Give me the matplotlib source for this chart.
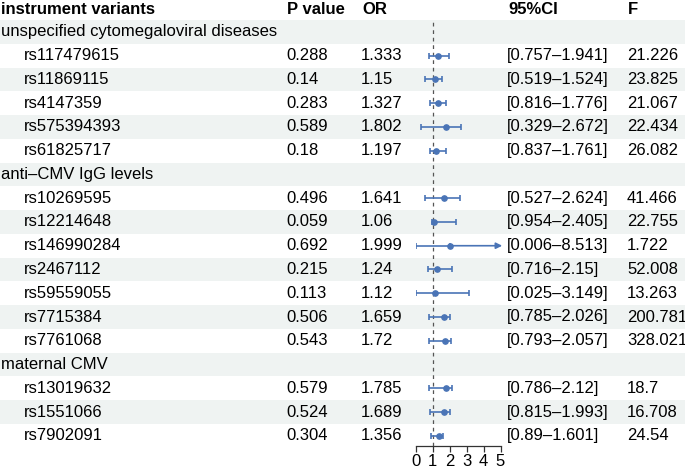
import matplotlib.pyplot as plt
from matplotlib.patches import Rectangle

plt.rcParams['font.family'] = ['Liberation Sans', 'DejaVu Sans']

# data
exposures = ['unspecified cytomegaloviral diseases', 'anti–CMV IgG levels', 'maternal CMV']
group = [0, 0, 0, 0, 0, 1, 1, 1, 1, 1, 1, 1, 2, 2, 2]
variants = ['rs117479615', 'rs11869115', 'rs4147359', 'rs575394393', 'rs61825717',
            'rs10269595', 'rs12214648', 'rs146990284', 'rs2467112', 'rs59559055',
            'rs7715384', 'rs7761068',
            'rs13019632', 'rs1551066', 'rs7902091']
pval = [0.288, 0.14, 0.283, 0.589, 0.18,
        0.496, 0.059, 0.692, 0.215, 0.113, 0.506, 0.543,
        0.579, 0.524, 0.304]
odds = [1.333, 1.15, 1.327, 1.802, 1.197,
        1.641, 1.06, 1.999, 1.24, 1.12, 1.659, 1.72,
        1.785, 1.689, 1.356]
ci_lo = [0.757, 0.519, 0.816, 0.329, 0.837,
         0.527, 0.954, 0.006, 0.716, 0.025, 0.785, 0.793,
         0.786, 0.815, 0.89]
ci_hi = [1.941, 1.524, 1.776, 2.672, 1.761,
         2.624, 2.405, 8.513, 2.15, 3.149, 2.026, 2.057,
         2.12, 1.993, 1.601]
fstat = [21.226, 23.825, 21.067, 22.434, 26.082,
         41.466, 22.755, 1.722, 52.008, 13.263, 200.781, 328.021,
         18.7, 16.708, 24.54]
headers = ['instrument variants', 'P value', 'OR', '95%CI', 'F']
xticks = [0, 1, 2, 3, 4, 5]

W, H = 685, 472
blue = '#4a74b6'
bg = '#eff3f2'
fs = 12

# layout (pixels)
row_top = 20
row_h = 23.76
col_x = [0, 286, 361, 507, 627]
indent = 24
fx0, fx1 = 415.7, 500.5
axis_y = 446

# build rows: group rows followed by their variants
rows = []
for g, name in enumerate(exposures):
    rows.append(('group', name, None))
    for i, v in enumerate(variants):
        if group[i] == g:
            rows.append(('var', v, i))

fig = plt.figure(figsize=(W / 100, H / 100), dpi=100)
ax = fig.add_axes([0, 0, 1, 1])
ax.set_xlim(0, W)
ax.set_ylim(H, 0)
ax.axis('off')

# header
for x, h in zip(col_x, headers):
    ax.text(x + 1, 9, h, fontsize=fs, fontweight='bold', ha='left', va='center')

row_y = []
for r, (kind, label, i) in enumerate(rows):
    y = row_top + (r + 0.5) * row_h
    row_y.append(y)
    if r % 2 == 0:
        ax.add_patch(Rectangle((0, y - row_h / 2), W, row_h, color=bg, lw=0, zorder=0))
    if kind == 'group':
        ax.text(1, y, label, fontsize=fs, ha='left', va='center')
    else:
        ax.text(indent, y, label, fontsize=fs, ha='left', va='center')
        ax.text(col_x[1], y, f'{pval[i]:g}', fontsize=fs, ha='left', va='center')
        ax.text(col_x[2], y, f'{odds[i]:g}', fontsize=fs, ha='left', va='center')
        ax.text(col_x[3], y, f'[{ci_lo[i]:g}–{ci_hi[i]:g}]', fontsize=fs, ha='left', va='center')
        ax.text(col_x[4], y, f'{fstat[i]:g}', fontsize=fs, ha='left', va='center')

# forest panel
axf = fig.add_axes([fx0 / W, (H - axis_y) / H, (fx1 - fx0) / W, (axis_y - row_top) / H])
axf.set_xlim(0, 5)
axf.set_ylim(axis_y, row_top)
axf.patch.set_alpha(0)
for s in ['top', 'left', 'right']:
    axf.spines[s].set_visible(False)
axf.spines['bottom'].set_color('#333333')
axf.spines['bottom'].set_linewidth(0.9)
axf.set_yticks([])
axf.set_xticks(xticks)
axf.tick_params(axis='x', length=4, width=0.9, color='#333333', labelsize=fs, pad=2)
axf.axvline(1, color='#555555', lw=0.9, ls=(0, (3, 3)), zorder=1)

for r, (kind, label, i) in enumerate(rows):
    if kind != 'var':
        continue
    y = row_y[r]
    hi = min(ci_hi[i], 5)
    if ci_hi[i] > 5:
        axf.errorbar(odds[i], y, xerr=[[odds[i] - ci_lo[i]], [0]], fmt='o', color=blue,
                     ms=3.8, lw=1.2, capsize=2.2, capthick=1.2, zorder=3)
        axf.annotate('', xy=(5.1, y), xytext=(odds[i], y), annotation_clip=False,
                     arrowprops=dict(arrowstyle='-|>', color=blue, lw=1.2,
                                     mutation_scale=9, shrinkA=0, shrinkB=0))
    else:
        axf.errorbar(odds[i], y, xerr=[[odds[i] - ci_lo[i]], [hi - odds[i]]], fmt='o',
                     color=blue, ms=3.8, lw=1.2, capsize=2.2, capthick=1.2, zorder=3)

fig.savefig('out.png', dpi=100)
